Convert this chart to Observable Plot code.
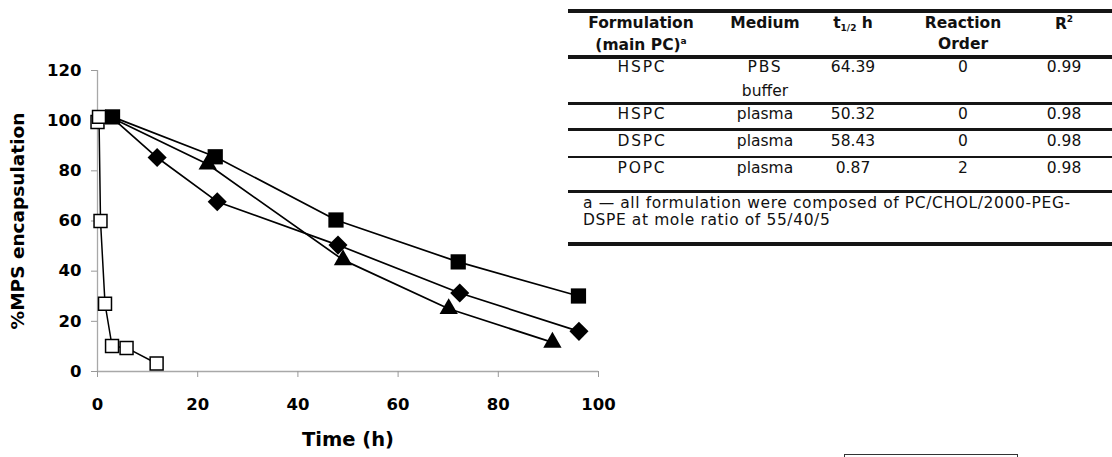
<!DOCTYPE html>
<html><head><meta charset="utf-8">
<script src="https://cdn.jsdelivr.net/npm/d3@7"></script>
<script src="https://cdn.jsdelivr.net/npm/@observablehq/plot@0.6"></script>
<style>
body{margin:0;background:#fff;overflow:hidden}
#wrap{position:relative;width:1112px;height:457px;overflow:hidden;background:#fff}
#chart{position:absolute;left:0;top:0}
.t{position:absolute;font-family:"DejaVu Sans";font-size:15.5px;color:#111;white-space:nowrap;transform:translate(-50%,-50%);line-height:1}
.h{font-weight:bold;font-size:15.5px}
.sp{letter-spacing:1.8px}
.ln{position:absolute;left:568px;width:544px;background:#151515}
.fn{position:absolute;left:583px;font-family:"DejaVu Sans";font-size:15.5px;letter-spacing:0.6px;color:#111;white-space:nowrap;line-height:1;transform:translateY(-50%)}
#box{position:absolute;left:844px;top:454px;width:172px;height:20px;border:1.5px solid #333}
</style></head><body><div id="wrap"><div id="chart"></div></div>
<script>
// ---- chart data ----
const xTicks = [0, 20, 40, 60, 80, 100];
const yTicks = [0, 20, 40, 60, 80, 100, 120];

const hoursHSPC_PBS = [3, 23.5, 47.6, 72, 96];
const encHSPC_PBS = [101.5, 85.6, 60.4, 43.7, 30.1];

const hoursDSPC_plasma = [3, 11.9, 23.9, 48, 72.3, 96.1];
const encDSPC_plasma = [101, 85.3, 67.7, 50.4, 31.3, 16];

const hoursHSPC_plasma = [3, 22, 49, 70.1, 90.8];
const encHSPC_plasma = [101, 82.6, 44.5, 25, 11.6];

const hoursPOPC_plasma = [0, 0.3, 0.6, 1.5, 2.9, 5.8, 11.8];
const encPOPC_plasma = [99.5, 101.5, 60, 27, 10.2, 9.4, 3.2];

// ---- table data ----
const formulations = ["HSPC", "HSPC", "DSPC", "POPC"];
const media = ["PBS buffer", "plasma", "plasma", "plasma"];
const halfLives = ["64.39", "50.32", "58.43", "0.87"];
const orders = ["0", "0", "0", "2"];
const rSquared = ["0.99", "0.98", "0.98", "0.98"];
const footnote = ["a — all formulation were composed of PC/CHOL/2000-PEG-", "DSPE at mole ratio of 55/40/5"];

const toRows = (h, v) => h.map((d, i) => ({t: d, v: v[i]}));
const sHSPC_PBS = toRows(hoursHSPC_PBS, encHSPC_PBS);
const sDSPC = toRows(hoursDSPC_plasma, encDSPC_plasma);
const sHSPC = toRows(hoursHSPC_plasma, encHSPC_plasma);
const sPOPC = toRows(hoursPOPC_plasma, encPOPC_plasma);
// the shared starting point of the diamond / triangle series is hidden behind the filled square
const notFirst = (d, i) => i > 0;

const lineOpts = {x: "t", y: "v", stroke: "#000", strokeWidth: 1.7};
const plot = Plot.plot({
  width: 620, height: 457,
  marginLeft: 97, marginRight: 22, marginTop: 70, marginBottom: 86,
  style: {fontFamily: "DejaVu Sans", fontSize: "16.5px", fontWeight: "bold", color: "#000", background: "#fff"},
  x: {domain: [0, 100]},
  y: {domain: [0, 120]},
  marks: [
    Plot.ruleY([0], {stroke: "#a8a8a8", strokeWidth: 1.3}),
    Plot.ruleX([0], {stroke: "#a8a8a8", strokeWidth: 1.3}),
    Plot.axisX({ticks: xTicks, tickSize: 6, tickPadding: 21, stroke: "#999", label: null, fontSize: 16.5, fill: "#000"}),
    Plot.axisY({ticks: yTicks, tickSize: 6, tickPadding: 10, stroke: "#999", label: null, fontSize: 16.5, fill: "#000"}),
    Plot.text(["%MPS encapsulation"], {frameAnchor: "left", textAnchor: "middle", dx: -79, dy: 0, rotate: -90, fontSize: 18.5, fontWeight: "bold", fill: "#000"}),
    Plot.text(["Time (h)"], {frameAnchor: "bottom", dy: 74, fontSize: 19.5, fontWeight: "bold", fill: "#000"}),
    Plot.line(sHSPC_PBS, lineOpts),
    Plot.line(sDSPC, lineOpts),
    Plot.line(sHSPC, lineOpts),
    Plot.line(sPOPC, {...lineOpts, strokeWidth: 1.5}),
    Plot.dot(sDSPC.filter(notFirst), {x: "t", y: "v", symbol: d3.symbolDiamond2, r: 8.6, fill: "#000", stroke: "none"}),
    Plot.dot(sHSPC.filter(notFirst), {x: "t", y: "v", symbol: d3.symbolTriangle, r: 6.8, fill: "#000", stroke: "none"}),
    Plot.dot(sHSPC_PBS, {x: "t", y: "v", symbol: d3.symbolSquare, r: 8.6, fill: "#000", stroke: "none"}),
    Plot.dot(sPOPC, {x: "t", y: "v", symbol: d3.symbolSquare, r: 7.3, fill: "#fff", stroke: "#000", strokeWidth: 1.5})
  ]
});
const wrap = document.getElementById("wrap");
document.getElementById("chart").appendChild(plot);

// ---- table ----
function add(cls, html, x, y) {
  const d = document.createElement("div");
  d.className = cls; d.innerHTML = html;
  d.style.left = x + "px"; d.style.top = y + "px";
  wrap.appendChild(d); return d;
}
function line(top, h) {
  const d = document.createElement("div");
  d.className = "ln"; d.style.top = top + "px"; d.style.height = h + "px";
  wrap.appendChild(d);
}
const colX = [641, 765, 853, 963, 1064];
[[9, 3.5], [55, 3.5], [102, 2.5], [128, 2.5], [155.5, 2.5], [189.5, 3.5], [242, 4]].forEach(([t, h]) => line(t, h));

add("t h", "Formulation", colX[0], 24);
add("t h", "(main PC)<sup style='font-size:9px;vertical-align:6px'>a</sup>", colX[0], 45);
add("t h", "Medium", colX[1], 24);
add("t h", "t<sub style='font-size:9px;vertical-align:-3px'>1/2</sub> h", colX[2], 24);
add("t h", "Reaction", colX[3], 24);
add("t h", "Order", colX[3], 45);
add("t h", "R<sup style='font-size:9px;vertical-align:7px'>2</sup>", colX[4], 24);

const rowY = [68, 115, 142, 169];
formulations.forEach((f, i) => {
  add("t sp", f, colX[0] + 1, rowY[i]);
  const m = media[i].split(" ");
  if (m.length > 1) { add("t sp", m[0], colX[1], rowY[i]); add("t", m[1], colX[1], rowY[i] + 24); }
  else add("t", m[0], colX[1], rowY[i]);
  add("t", halfLives[i], colX[2], rowY[i]);
  add("t", orders[i], colX[3], rowY[i]);
  add("t", rSquared[i], colX[4], rowY[i]);
});
add("fn", footnote[0], 583, 204);
add("fn", footnote[1], 583, 221);
const box = document.createElement("div"); box.id = "box"; wrap.appendChild(box);
</script></body></html>
